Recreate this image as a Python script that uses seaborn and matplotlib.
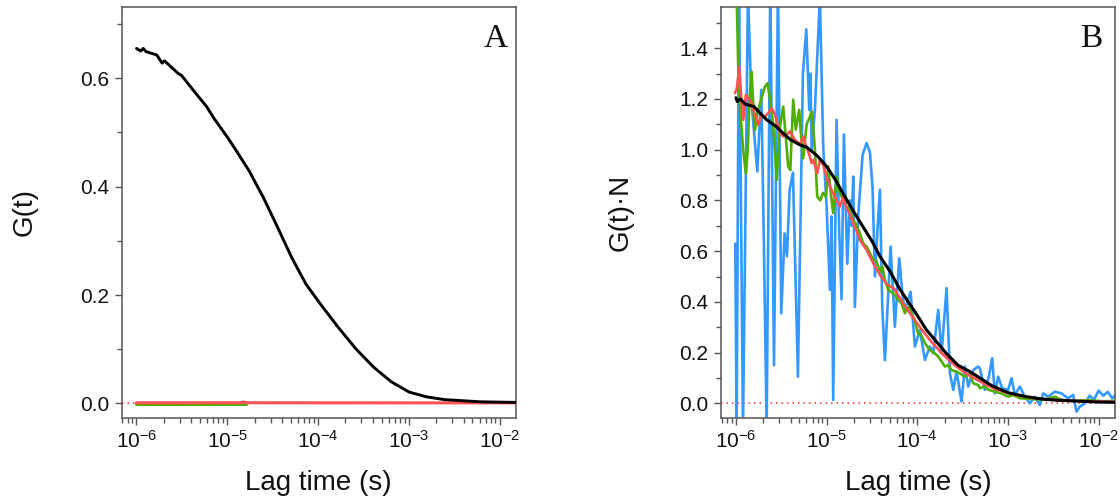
import numpy as np
import matplotlib
matplotlib.use("Agg")
import matplotlib.pyplot as plt
import seaborn as sns
from matplotlib.ticker import LogLocator, LogFormatterMathtext, MultipleLocator, FormatStrFormatter, NullFormatter

# ---------------- data (x given as log10 of lag time in seconds) ----------------
# Panel A : G(t)
a_black_logt = [-6.0, -5.953, -5.926, -5.894, -5.777, -5.718, -5.691, -5.542, -5.503, -5.366,
                -5.229, -5.151, -4.994, -4.896, -4.759, -4.603, -4.446, -4.29, -4.133, -3.977,
                -3.781, -3.585, -3.389, -3.194, -2.998, -2.802, -2.607, -2.411, -2.215, -1.863, -1.82]
a_black_val = [0.655, 0.650, 0.655, 0.649, 0.643, 0.628, 0.632, 0.609, 0.605, 0.576,
               0.548, 0.527, 0.490, 0.465, 0.429, 0.380, 0.325, 0.269, 0.220, 0.184,
               0.141, 0.101, 0.067, 0.040, 0.021, 0.012, 0.007, 0.005, 0.003, 0.002, 0.002]
a_green_logt = [-6.0, -5.5, -5.0, -4.79]
a_green_val = [-0.0014, -0.0014, -0.0014, -0.0014]
a_red_logt = [-6.0, -5.5, -5.0, -4.85, -4.82, -4.79, -4.5, -4.0, -3.0, -2.0, -1.82]
a_red_val = [0.0012, 0.0012, 0.0013, 0.0013, 0.0026, 0.0013, 0.0012, 0.0011, 0.0010, 0.0010, 0.0010]

# Panel B : G(t)*N
b_black_logt = [-6.0, -5.985, -5.97, -5.95, -5.9, -5.85, -5.8, -5.75, -5.66, -5.55, -5.48, -5.4,
                -5.3, -5.22, -5.1, -5.0, -4.9, -4.82, -4.7, -4.6, -4.5, -4.41, -4.3, -4.2, -4.1,
                -4.0, -3.9, -3.8, -3.68, -3.55, -3.42, -3.31, -3.18, -3.0, -2.81, -2.63, -2.45,
                -2.26, -2.0, -1.82]
b_black_val = [1.205, 1.19, 1.195, 1.20, 1.18, 1.175, 1.17, 1.15, 1.118, 1.09, 1.065, 1.04,
               1.02, 1.01, 0.975, 0.934, 0.88, 0.828, 0.755, 0.697, 0.64, 0.578, 0.52, 0.455, 0.40,
               0.347, 0.29, 0.248, 0.197, 0.15, 0.125, 0.10, 0.07, 0.042, 0.027, 0.017, 0.012,
               0.009, 0.005, 0.004]

b_red_logt = [-6.011, -5.99, -5.963, -5.94, -5.919, -5.89, -5.86, -5.827, -5.79, -5.754, -5.72,
              -5.68, -5.643, -5.607, -5.57, -5.522, -5.478, -5.44, -5.405, -5.35, -5.294, -5.257,
              -5.221, -5.19, -5.166, -5.147, -5.103, -5.074, -5.037, -5.0, -4.963, -4.927, -4.89,
              -4.853, -4.817, -4.78, -4.743, -4.706, -4.67, -4.633, -4.559, -4.485, -4.412, -4.338,
              -4.25, -4.15, -4.05, -3.95, -3.85, -3.75, -3.65, -3.55, -3.45, -3.35, -3.25, -3.15,
              -3.0, -2.85, -2.7, -2.5, -2.3, -2.1, -1.82]
b_red_val = [1.223, 1.24, 1.328, 1.197, 1.118, 1.216, 1.20, 1.183, 1.137, 1.098, 1.137,
             1.13, 1.144, 1.164, 1.14, 1.072, 1.052, 1.06, 1.072, 1.039, 1.02, 1.052,
             1.01, 0.98, 0.947, 0.96, 0.907, 0.96, 0.94, 0.894, 0.855, 0.828, 0.80,
             0.776, 0.815, 0.77, 0.745, 0.71, 0.68, 0.644, 0.605, 0.552, 0.506, 0.47,
             0.45, 0.39, 0.34, 0.29, 0.245, 0.205, 0.17, 0.14, 0.115, 0.095, 0.075, 0.058,
             0.04, 0.028, 0.02, 0.014, 0.01, 0.008, 0.006]

b_green_logt = [-6.0, -5.985, -5.97, -5.945, -5.92, -5.89, -5.87, -5.85, -5.827, -5.80, -5.79,
                -5.765, -5.72, -5.68, -5.651, -5.62, -5.59, -5.55, -5.52, -5.478, -5.45, -5.423,
                -5.40, -5.368, -5.34, -5.302, -5.28, -5.258, -5.22, -5.16, -5.129, -5.103, -5.07,
                -5.04, -5.007, -4.982, -4.96, -4.927, -4.89, -4.853, -4.816, -4.78, -4.743, -4.706,
                -4.67, -4.633, -4.596, -4.559, -4.522, -4.485, -4.45, -4.412, -4.385, -4.357, -4.32,
                -4.265, -4.21, -4.173, -4.136, -4.1, -4.063, -4.026, -3.99, -3.95, -3.916, -3.861,
                -3.806, -3.769, -3.732, -3.695, -3.66, -3.622, -3.57, -3.53, -3.475, -3.42, -3.383,
                -3.328, -3.31, -3.27, -3.21, -3.145, -3.07, -2.998, -2.94, -2.87, -2.78, -2.7, -2.6,
                -2.483, -2.41, -2.25, -2.1, -1.95, -1.82]
b_green_val = [1.75, 1.5, 1.26, 1.118, 1.0, 0.907, 1.0, 1.2, 1.308, 1.12, 1.078,
               1.144, 1.2, 1.249, 1.262, 1.19, 1.1, 0.881, 1.078, 1.17, 1.05, 0.934,
               0.92, 1.197, 1.08, 1.157, 1.05, 0.966, 1.1, 1.15, 1.0, 0.815, 0.80,
               0.83, 0.815, 0.934, 0.85, 0.75, 0.894, 0.83, 0.80, 0.776, 0.76, 0.723,
               0.70, 0.67, 0.63, 0.618, 0.592, 0.565, 0.56, 0.52, 0.54, 0.487, 0.447,
               0.434, 0.408, 0.394, 0.355, 0.38, 0.355, 0.322, 0.276, 0.265, 0.237, 0.21,
               0.197, 0.184, 0.165, 0.145, 0.15, 0.131, 0.125, 0.118, 0.105, 0.118, 0.079,
               0.072, 0.059, 0.066, 0.053, 0.046, 0.039, 0.026, 0.033, 0.02, 0.018, 0.016, 0.014,
               0.026, 0.013, 0.01, 0.012, 0.008, 0.01]

b_blue_logt = [-6.007, -5.992, -5.966, -5.922, -5.867, -5.83, -5.764, -5.72, -5.69, -5.661,
               -5.621, -5.58, -5.536, -5.5, -5.463, -5.437, -5.408, -5.371, -5.316, -5.261,
               -5.224, -5.191, -5.178, -5.165, -5.129, -5.074, -5.037, -5.0, -4.963, -4.945,
               -4.927, -4.89, -4.86, -4.835, -4.809, -4.772, -4.743, -4.724, -4.706, -4.688,
               -4.651, -4.603, -4.559, -4.522, -4.493, -4.467, -4.441, -4.412, -4.386, -4.357,
               -4.294, -4.247, -4.199, -4.162, -4.136, -4.074, -4.026, -3.971, -3.916, -3.861,
               -3.824, -3.769, -3.732, -3.677, -3.64, -3.603, -3.567, -3.512, -3.475, -3.438,
               -3.383, -3.328, -3.31, -3.255, -3.211, -3.174, -3.145, -3.108, -3.064, -2.998,
               -2.961, -2.924, -2.869, -2.814, -2.759, -2.704, -2.648, -2.612, -2.556, -2.483,
               -2.41, -2.336, -2.281, -2.244, -2.207, -2.15, -2.1, -2.05, -2.0, -1.95, -1.9,
               -1.85, -1.82]
b_blue_val = [0.63, -0.10, 1.65, -0.10, 1.62, 1.2, 0.914, 1.236, 0.6, -0.10,
              1.65, 0.15, 1.65, 0.355, 0.67, 0.58, 0.84, 0.91, 0.105, 1.3,
              1.475, 1.157, 1.30, 1.0, 1.157, 1.6, 1.01, 0.776, 0.447, 0.737,
              0.013, 1.118, 0.67, 0.41, 1.06, 0.55, 0.8, 0.70, 0.894, 0.38,
              0.74, 0.98, 1.026, 0.99, 0.85, 0.50, 0.67, 0.842, 0.38, 0.17,
              0.618, 0.302, 0.572, 0.421, 0.368, 0.44, 0.224, 0.289, 0.171, 0.224,
              0.197, 0.368, 0.197, 0.454, 0.118, 0.053, 0.125, 0.007, 0.145, 0.066,
              0.131, 0.145, 0.138, 0.053, 0.105, 0.178, 0.039, 0.105, 0.059, 0.053,
              0.099, 0.033, 0.066, 0.026, 0.0, 0.026, -0.007, 0.039, 0.026, 0.046,
              0.039, 0.020, 0.033, -0.033, -0.013, 0.0, 0.03, 0.015, 0.05, 0.03, 0.045,
              0.02, 0.03]

x_label = "Lag time (s)"
a_ylabel = "G(t)"
b_ylabel = "G(t)\u00b7N"
panel_letters = ["A", "B"]

# ---------------- style ----------------
sns.set_theme(style="ticks")
plt.rcParams['font.family'] = ['Liberation Sans', 'DejaVu Sans']
plt.rcParams['mathtext.fontset'] = 'custom'
plt.rcParams['mathtext.rm'] = 'Liberation Sans'
plt.rcParams['mathtext.it'] = 'Liberation Sans:italic'
plt.rcParams['mathtext.bf'] = 'Liberation Sans:bold'

C_BLUE = "#3399ff"
C_GREEN = "#4fae00"
C_RED = "#ff5252"
C_BLACK = "#000000"
C_DOT = "#ff2a2a"
C_SPINE = "#555555"

fig = plt.figure(figsize=(11.2, 4.99), dpi=100)
axA = fig.add_axes([0.1085, 0.1633, 0.3522, 0.8233])
axB = fig.add_axes([0.6437, 0.1633, 0.3518, 0.8233])


def line(ax, logt, vals, color, lw, z):
    sns.lineplot(x=10 ** np.asarray(logt), y=np.asarray(vals), ax=ax, color=color,
                 linewidth=lw, estimator=None, sort=False, legend=False, zorder=z)


# Panel A
axA.axhline(0, color=C_DOT, lw=1.1, linestyle=(0, (1, 2.6)), zorder=1)
line(axA, a_green_logt, a_green_val, C_GREEN, 2.2, 2)
line(axA, a_red_logt, a_red_val, C_RED, 2.2, 3)
line(axA, a_black_logt, a_black_val, C_BLACK, 2.1, 4)

# Panel B
axB.axhline(0, color=C_DOT, lw=1.1, linestyle=(0, (1, 2.6)), zorder=1)
line(axB, b_blue_logt, b_blue_val, C_BLUE, 1.9, 2)
line(axB, b_green_logt, b_green_val, C_GREEN, 1.9, 3)
line(axB, b_red_logt, b_red_val, C_RED, 1.9, 4)
line(axB, b_black_logt, b_black_val, C_BLACK, 2.2, 5)

for ax, ylim, ylab, letter, lx, lcoord in [
        (axA, (-0.026, 0.732), a_ylabel, panel_letters[0], 0.98, -0.212),
        (axB, (-0.056, 1.564), b_ylabel, panel_letters[1], 0.967, -0.222)]:
    ax.set_xscale('log')
    ax.set_xlim(10 ** -6.165, 10 ** -1.82)
    ax.set_ylim(*ylim)
    ax.xaxis.set_major_locator(LogLocator(base=10, numticks=12))
    ax.xaxis.set_minor_locator(LogLocator(base=10, subs=np.arange(2, 10), numticks=12))
    ax.xaxis.set_major_formatter(LogFormatterMathtext())
    ax.xaxis.set_minor_formatter(NullFormatter())
    ax.yaxis.set_major_locator(MultipleLocator(0.2))
    ax.yaxis.set_minor_locator(MultipleLocator(0.1))
    ax.yaxis.set_major_formatter(FormatStrFormatter('%.1f'))
    for s in ax.spines.values():
        s.set_visible(True)
        s.set_color(C_SPINE)
        s.set_linewidth(1.1)
    ax.tick_params(axis='both', which='major', direction='out', length=5, width=1,
                   color=C_SPINE, labelsize=15, labelcolor='#111111', pad=4)
    ax.tick_params(axis='both', which='minor', direction='out', length=3.5, width=1,
                   color=C_SPINE)
    ax.set_xlabel(x_label, fontsize=20, color='#111111')
    ax.set_ylabel(ylab, fontsize=20, color='#111111')
    ax.xaxis.set_label_coords(0.5, -0.128)
    ax.yaxis.set_label_coords(lcoord, 0.5)
    ax.text(lx, 0.902, letter, transform=ax.transAxes, ha='right', va='baseline',
            fontsize=24, family='Liberation Serif', color='#111111')
    ax.grid(False)

fig.savefig('out.png', dpi=100)
